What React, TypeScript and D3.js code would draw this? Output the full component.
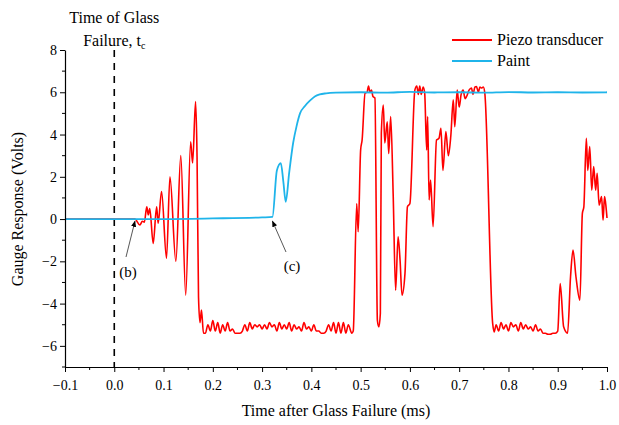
import * as d3 from "d3";
import { useEffect, useRef } from "react";

// axis ticks
const xTicks = [-0.1, 0.0, 0.1, 0.2, 0.3, 0.4, 0.5, 0.6, 0.7, 0.8, 0.9, 1.0];
const yTicks = [-6, -4, -2, 0, 2, 4, 6, 8];

// piezo transducer: [time ms, volts]
const piezoStart = [
  [-0.1, 0], [0.042, 0], [0.052, -0.28], [0.057, -0.1], [0.061, -0.15], [0.066, 0.58], [0.069, 0.2], [0.072, 0.5],
  [0.079, -1.15], [0.086, 0.58], [0.089, -0.2], [0.096, 1.3], [0.106, -1.85], [0.113, 2.0], [0.125, -2.0],
  [0.135, 3.0], [0.145, -3.6], [0.155, 3.66], [0.159, 2.65], [0.165, 5.56], [0.168, 2.95], [0.171, -3.7],
  [0.174, -4.9], [0.177, -4.3], [0.181, -5.4],
];
const piezoLow1 = [
  [0.185, -5.4], [0.19, -5.0], [0.195, -5.3], [0.2, -4.8], [0.205, -5.3], [0.21, -4.9], [0.215, -5.4], [0.22, -5.0],
  [0.225, -5.3], [0.23, -4.9], [0.235, -5.3], [0.24, -5.2], [0.245, -5.4], [0.25, -5.4], [0.255, -5.4], [0.26, -5.3],
  [0.265, -5.0], [0.27, -5.3], [0.275, -4.9], [0.28, -5.2], [0.285, -5.0], [0.29, -5.1], [0.295, -5.0], [0.3, -5.2],
  [0.305, -5.0], [0.31, -5.2], [0.315, -4.9], [0.32, -5.1], [0.325, -5.0], [0.33, -5.3], [0.335, -4.9], [0.34, -5.2],
  [0.345, -5.0], [0.35, -5.2], [0.355, -4.9], [0.36, -5.3], [0.365, -5.0], [0.37, -5.2], [0.375, -5.1], [0.38, -5.3],
  [0.385, -4.9], [0.39, -5.2], [0.395, -5.1], [0.4, -5.3], [0.405, -5.0], [0.41, -5.3], [0.415, -5.3], [0.42, -5.4],
  [0.425, -5.4], [0.43, -5.3], [0.435, -5.0], [0.44, -5.3], [0.445, -4.9], [0.45, -5.4], [0.455, -4.9], [0.46, -5.4],
  [0.465, -4.9], [0.47, -5.4], [0.475, -5.0], [0.482, -5.4],
];
const piezoMid = [
  [0.485, -5.3], [0.492, 0.74], [0.495, -0.6], [0.5, 3.27], [0.503, 3.74], [0.509, 5.96], [0.513, 6.0], [0.516, 6.3],
  [0.519, 6.0], [0.522, 6.1], [0.525, 5.8], [0.529, 5.73], [0.534, -4.8], [0.537, -5.1], [0.54, -4.47], [0.542, 4.06],
  [0.546, 5.4], [0.549, 3.6], [0.554, 4.6], [0.557, 3.1], [0.561, 4.85], [0.566, 1.2], [0.571, -3.37], [0.576, -0.84],
  [0.58, -1.94], [0.584, -3.6], [0.59, -2.57], [0.595, 0.58], [0.6, 0.74], [0.61, 6.1], [0.614, 6.3], [0.617, 5.9],
  [0.62, 6.3], [0.623, 5.9], [0.627, 6.25], [0.63, 5.96], [0.634, 3.27], [0.636, 4.85], [0.639, 0.9], [0.642, 1.85],
  [0.647, -0.36], [0.654, 3.74], [0.659, 3.82], [0.663, 4.3], [0.667, 2.3], [0.673, 4.14], [0.678, 3.0], [0.683, 3.93],
  [0.688, 5.64], [0.691, 4.37], [0.696, 6.1], [0.7, 5.3], [0.704, 5.9], [0.708, 6.1], [0.712, 5.7], [0.715, 5.8],
  [0.72, 6.1], [0.725, 6.2], [0.728, 5.9], [0.732, 6.25], [0.735, 6.27], [0.739, 6.0], [0.742, 6.25], [0.745, 6.2],
  [0.749, 6.25], [0.752, 5.96], [0.768, -4.95], [0.771, -5.34],
];
const piezoLow2 = [
  [0.775, -5.0], [0.78, -5.3], [0.785, -4.9], [0.79, -5.2], [0.795, -5.0], [0.8, -5.3], [0.805, -4.9], [0.81, -5.1],
  [0.815, -5.0], [0.82, -5.3], [0.825, -4.9], [0.83, -5.2], [0.835, -5.0], [0.84, -5.2], [0.845, -5.1], [0.85, -5.3],
  [0.855, -5.0], [0.86, -5.3], [0.865, -5.2], [0.87, -5.4], [0.875, -5.4], [0.88, -5.45], [0.885, -5.45], [0.89, -5.4],
  [0.895, -5.4], [0.9, -5.3],
];
const piezoEnd = [
  [0.905, -3.05], [0.912, -5.1], [0.92, -5.4], [0.926, -2.73], [0.931, -1.47], [0.937, -2.73], [0.945, -3.84],
  [0.95, 0.27], [0.953, 0.58], [0.958, 3.82], [0.961, 2.3], [0.965, 3.43], [0.969, 1.37], [0.973, 2.48], [0.977, 1.37],
  [0.98, 2.17], [0.984, 0.66], [0.989, 1.06], [0.992, -0.05], [0.995, 1.06], [0.998, 0.58], [1.0, 0.05],
];
const piezo = [...piezoStart, ...piezoLow1, ...piezoMid, ...piezoLow2, ...piezoEnd];

// paint gauge: [time ms, volts]
const paint = [
  [-0.1, 0], [0.1, 0.0], [0.2, 0.03], [0.3, 0.08], [0.321, 0.1], [0.33, 2.3], [0.338, 2.65], [0.343, 1.8],
  [0.348, 0.82], [0.355, 2.2], [0.363, 3.6], [0.37, 4.4], [0.377, 5.0], [0.387, 5.35], [0.397, 5.6], [0.407, 5.8],
  [0.417, 5.9], [0.43, 5.95], [0.45, 5.98], [0.5, 6.0], [0.55, 5.98], [0.6, 6.02], [0.65, 5.99], [0.7, 6.0],
  [0.75, 5.98], [0.8, 6.01], [0.85, 5.99], [0.9, 6.0], [0.95, 5.99], [1.0, 6.0],
];

const seriesNames = ["Piezo transducer", "Paint"];
const seriesColors = ["#ff0000", "#1fb4ea"];

export default function App() {
  const ref = useRef<SVGSVGElement>(null);

  useEffect(() => {
    const svg = d3.select(ref.current);
    svg.selectAll("*").remove();
    const font = "'Liberation Serif', 'Times New Roman', serif";

    const x = d3.scaleLinear().domain([-0.1, 1.0]).range([65, 607]);
    const y = d3.scaleLinear().domain([-7, 8]).range([367, 50]);

    // dashed line at glass failure
    svg.append("line")
      .attr("x1", x(0)).attr("x2", x(0))
      .attr("y1", y(8)).attr("y2", y(-7))
      .attr("stroke", "#000").attr("stroke-width", 1.6)
      .attr("stroke-dasharray", "7,6");

    const line = d3.line<number[]>().x(d => x(d[0])).y(d => y(d[1])).curve(d3.curveMonotoneX);
    svg.append("path").datum(piezo)
      .attr("fill", "none").attr("stroke", seriesColors[0]).attr("stroke-width", 1.6)
      .attr("stroke-linejoin", "round").attr("d", line);
    svg.append("path").datum(paint)
      .attr("fill", "none").attr("stroke", seriesColors[1]).attr("stroke-width", 1.8)
      .attr("d", line);

    // axes
    const xAxis = svg.append("g").attr("transform", `translate(0,${y(-7)})`)
      .call(d3.axisBottom(x).tickValues(xTicks).tickFormat(d3.format(".1f")).tickSize(5).tickSizeOuter(0));
    xAxis.append("g").selectAll("line")
      .data(d3.range(-0.05, 1.0, 0.1))
      .join("line").attr("x1", d => x(d)).attr("x2", d => x(d)).attr("y1", 0).attr("y2", 3).attr("stroke", "#000");
    const yAxis = svg.append("g").attr("transform", `translate(${x(-0.1)},0)`)
      .call(d3.axisLeft(y).tickValues(yTicks).tickSize(5).tickSizeOuter(0));
    yAxis.append("g").selectAll("line")
      .data([-7, -5, -3, -1, 1, 3, 5, 7])
      .join("line").attr("y1", d => y(d)).attr("y2", d => y(d)).attr("x1", 0).attr("x2", -3).attr("stroke", "#000");
    [xAxis, yAxis].forEach(g => {
      g.select(".domain").attr("stroke-width", 1.2);
      g.selectAll(".tick text").attr("font-family", font).attr("font-size", 14).attr("fill", "#000");
    });
    xAxis.selectAll(".tick text").attr("dy", "1.1em");

    // axis titles
    svg.append("text").attr("x", 336).attr("y", 416).attr("text-anchor", "middle")
      .attr("font-family", font).attr("font-size", 16).text("Time after Glass Failure (ms)");
    svg.append("text").attr("transform", "translate(23,209) rotate(-90)").attr("text-anchor", "middle")
      .attr("font-family", font).attr("font-size", 16).text("Gauge Response (Volts)");

    // glass failure label
    svg.append("text").attr("x", x(0)).attr("y", 23).attr("text-anchor", "middle")
      .attr("font-family", font).attr("font-size", 16).text("Time of Glass");
    const t2 = svg.append("text").attr("x", x(0)).attr("y", 46).attr("text-anchor", "middle")
      .attr("font-family", font).attr("font-size", 16);
    t2.append("tspan").text("Failure, t");
    t2.append("tspan").attr("font-size", 10).attr("dy", 3).text("c");

    // legend
    seriesNames.forEach((name, i) => {
      const ly = 40 + i * 21;
      svg.append("line").attr("x1", 452).attr("x2", 492).attr("y1", ly).attr("y2", ly)
        .attr("stroke", seriesColors[i]).attr("stroke-width", 1.8);
      svg.append("text").attr("x", 497).attr("y", ly + 5).attr("font-family", font)
        .attr("font-size", 16).text(name);
    });

    // annotations
    svg.append("defs").append("marker").attr("id", "arr").attr("viewBox", "0 0 10 10")
      .attr("refX", 9).attr("refY", 5).attr("markerWidth", 7).attr("markerHeight", 7).attr("orient", "auto")
      .append("path").attr("d", "M0,1 L10,5 L0,9 Z").attr("fill", "#000");
    const notes = [
      { label: "(b)", tx: 128, ty: 277, from: [126, 257], to: [x(0.042), y(-0.1)] },
      { label: "(c)", tx: 292, ty: 271, from: [286, 252], to: [x(0.321), y(-0.1)] },
    ];
    notes.forEach(n => {
      svg.append("line").attr("x1", n.from[0]).attr("y1", n.from[1]).attr("x2", n.to[0]).attr("y2", n.to[1])
        .attr("stroke", "#444").attr("stroke-width", 0.9).attr("marker-end", "url(#arr)");
      svg.append("text").attr("x", n.tx).attr("y", n.ty).attr("text-anchor", "middle")
        .attr("font-family", font).attr("font-size", 15).text(n.label);
    });
  }, []);

  return (
    <svg ref={ref} width={619} height={425}
      style={{ position: "absolute", left: 0, top: 0, background: "#fff" }} />
  );
}
